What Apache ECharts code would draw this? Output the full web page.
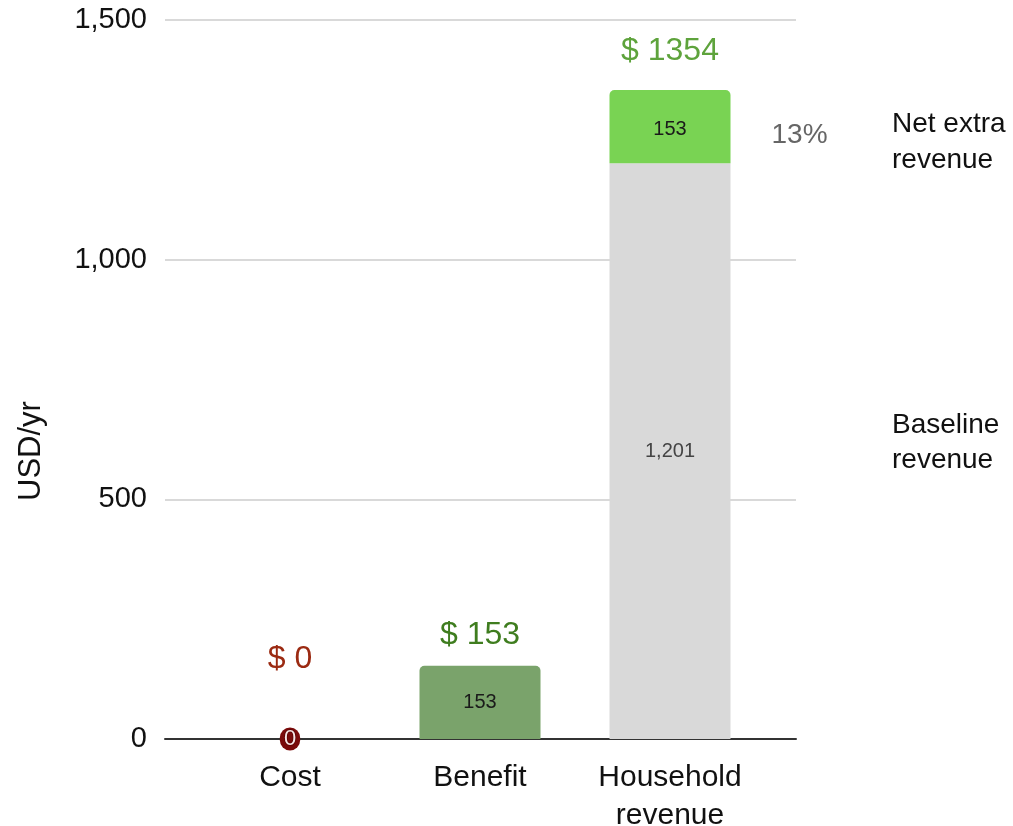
<!DOCTYPE html>
<html>
<head>
<meta charset="utf-8">
<script src="https://cdn.jsdelivr.net/npm/echarts@6/dist/echarts.min.js"></script>
<style>
  html, body { margin: 0; padding: 0; background: #fff; }
  #chart { width: 1013px; height: 826px; }
</style>
</head>
<body>
<div id="chart"></div>
<script>
// Categories and values (USD per year)
const categories = ['Cost', 'Benefit', 'Household\nrevenue'];
const baseValues = [0, 153, 1201];     // cost, benefit, baseline revenue
const extraValues = [0, 0, 153];       // net extra revenue on top of baseline
const yTicks = [0, 500, 1000, 1500];

const FONT = '"Liberation Sans", Arial, sans-serif';
const totals = baseValues.map((v, i) => v + extraValues[i]);
const totalColors = ['#9b2a12', '#3f7d1f', '#5ea33c'];
const totalDistances = [64, 14, 23];
const baseColors = ['#7a0a0a', '#7aa36b', '#d9d9d9'];
const zeros = categories.map(() => 0);

const chart = echarts.init(document.getElementById('chart'));
const fmt = v => v.toLocaleString('en-US');

chart.setOption({
  animation: false,
  textStyle: { fontFamily: FONT },
  grid: [
    { left: 165, right: 217, top: 20, bottom: 87, outerBoundsMode: 'none', containLabel: false },
    { left: 195, right: 248, top: 20, bottom: 87, outerBoundsMode: 'none', containLabel: false }
  ],
  xAxis: [
    {
      gridIndex: 0, type: 'category', data: [''],
      axisLine: { show: true, lineStyle: { color: '#333', width: 2 } },
      axisTick: { show: false }, axisLabel: { show: false }
    },
    {
      gridIndex: 1, type: 'category', data: categories,
      axisLine: { show: false }, axisTick: { show: false },
      axisLabel: { color: '#111', fontSize: 30, margin: 20, lineHeight: 38, fontFamily: FONT }
    }
  ],
  yAxis: [
    {
      gridIndex: 0, type: 'value', min: yTicks[0], max: yTicks[yTicks.length - 1], interval: 500,
      axisLine: { show: false }, axisTick: { show: false },
      axisLabel: { color: '#111', fontSize: 29, margin: 18, formatter: v => fmt(v), fontFamily: FONT },
      splitLine: { lineStyle: { color: '#cccccc', width: 1.5 } }
    },
    {
      gridIndex: 1, type: 'value', min: yTicks[0], max: yTicks[yTicks.length - 1], interval: 500,
      show: false, splitLine: { show: false }
    }
  ],
  series: [
    {
      name: 'Base', type: 'bar', xAxisIndex: 1, yAxisIndex: 1, stack: 'total', barWidth: 121,
      data: baseValues.map((v, i) => ({
        value: v,
        itemStyle: { color: baseColors[i], borderRadius: i === 1 ? [5, 5, 0, 0] : 0 },
        label: i === 0
          ? { show: true, position: 'inside', color: '#f6e4e4', fontSize: 22,
              backgroundColor: '#7a0a0a', borderRadius: 11, padding: [1, 4, 0, 4],
              textBorderColor: '#5a0000', textBorderWidth: 1.5 }
          : { show: true, position: 'inside', color: i === 1 ? '#1a1a1a' : '#444', fontSize: 20 }
      })),
      label: { formatter: p => fmt(p.value), fontFamily: FONT }
    },
    {
      name: 'Net extra revenue', type: 'bar', xAxisIndex: 1, yAxisIndex: 1, stack: 'total',
      data: extraValues.map(v => ({ value: v })),
      itemStyle: { color: '#79d353', borderRadius: [5, 5, 0, 0] },
      label: {
        show: true, position: 'inside', color: '#1a1a1a', fontSize: 20, fontFamily: FONT,
        offset: [0, 3],
        formatter: p => (p.value ? fmt(p.value) : '')
      }
    },
    {
      name: 'Share', type: 'bar', xAxisIndex: 1, yAxisIndex: 1, stack: 'total',
      data: zeros.map((v, i) => ({
        value: v,
        label: {
          show: extraValues[i] > 0, position: 'right', distance: 41, offset: [0, 45],
          color: '#666', fontSize: 28, fontFamily: FONT,
          formatter: () => Math.round(extraValues[i] / baseValues[i] * 100) + '%'
        }
      })),
      itemStyle: { color: 'transparent' }
    },
    {
      name: 'Total', type: 'bar', xAxisIndex: 1, yAxisIndex: 1, stack: 'total',
      data: zeros.map((v, i) => ({
        value: v,
        label: {
          show: true, position: 'top', distance: totalDistances[i],
          color: totalColors[i], fontSize: 32, fontFamily: FONT,
          formatter: () => '$ ' + totals[i]
        }
      })),
      itemStyle: { color: 'transparent' }
    }
  ],
  graphic: [
    {
      type: 'text', x: 31, y: 451, rotation: Math.PI / 2,
      style: { text: 'USD/yr', fill: '#111', fontSize: 31, fontFamily: FONT,
               textAlign: 'center', textVerticalAlign: 'middle' }
    },
    {
      type: 'text', left: 892, top: 106,
      style: { text: 'Net extra\nrevenue', fill: '#111', fontSize: 28, lineHeight: 36, fontFamily: FONT }
    },
    {
      type: 'text', left: 892, top: 408,
      style: { text: 'Baseline\nrevenue', fill: '#111', fontSize: 28, lineHeight: 35, fontFamily: FONT }
    }
  ]
});
</script>
</body>
</html>
